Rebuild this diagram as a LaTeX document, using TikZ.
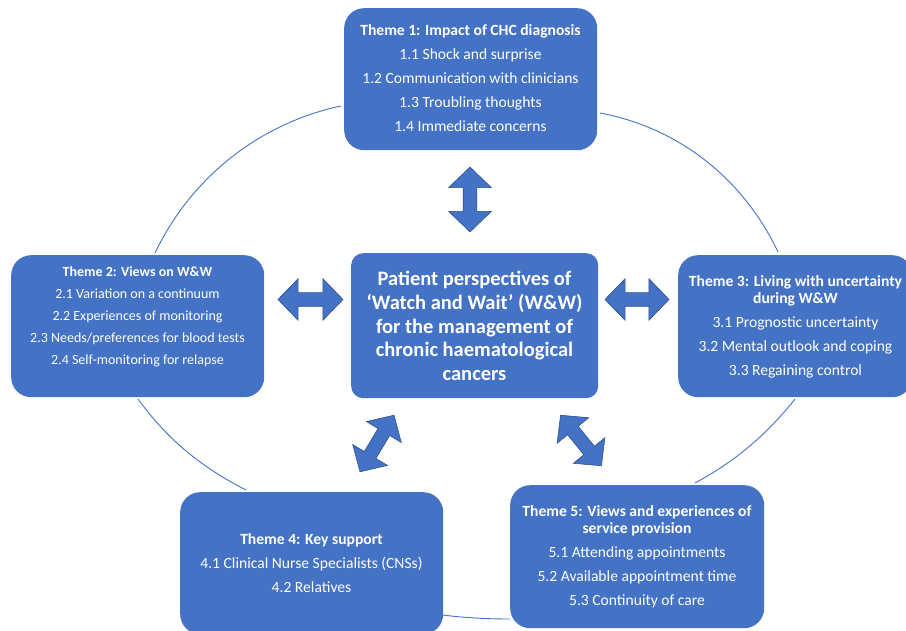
\documentclass[tikz,border=0pt]{standalone}
\usepackage{fontspec}
\setmainfont{Carlito}
\usetikzlibrary{shapes.arrows}
\definecolor{acc}{HTML}{4472C4}
\definecolor{accdark}{HTML}{2F528F}
\begin{document}
\begin{tikzpicture}[x=1pt,y=-1pt,
  themebox/.style={fill=acc, draw=none, rounded corners=20pt, inner sep=0pt, anchor=north west},
  ctrbox/.style={fill=acc, draw=none, rounded corners=12pt, inner sep=0pt, anchor=north west},
  themetext/.style={text=white, align=center, inner sep=0pt, font=\fontsize{15.6}{17}\selectfont},
  smalltext/.style={text=white, align=center, inner sep=0pt, font=\fontsize{14}{15.4}\selectfont},
  ctrtext/.style={text=white, align=center, inner sep=0pt, font=\bfseries\fontsize{20.5}{23.8}\selectfont},
  dblarr/.style={double arrow, fill=acc, draw=accdark, line width=0.6pt,
    inner xsep=0pt, inner ysep=6.5pt, text height=0pt, text depth=0pt,
    double arrow head extend=14pt, double arrow tip angle=92},
  ring/.style={draw=acc, line width=0.9pt}
]
\useasboundingbox (0,0) rectangle (906,631);

% ring arcs (behind the boxes)
\coordinate (r1a) at (341,106);
\coordinate (r1b) at (155,253);
\coordinate (r2a) at (138,399);
\coordinate (r2b) at (246,490);
\coordinate (r3a) at (443,615);
\coordinate (r3b) at (510,619);
\coordinate (r4a) at (695,483);
\coordinate (r4b) at (795,399);
\coordinate (r5a) at (778,252);
\coordinate (r5b) at (600,113);
\draw[ring] (r1a) .. controls (259.7,123.3) and (191.2,177.2) .. (r1b);
\draw[ring] (r2a) .. controls (167.4,439.5) and (201.4,467.3) .. (r2b);
\draw[ring] (r3a) .. controls (465,618) and (490,619) .. (r3b);
\draw[ring] (r4a) .. controls (734.7,461.8) and (767.1,434.3) .. (r4b);
\draw[ring] (r5a) .. controls (744,180) and (680,128) .. (r5b);

% boxes
\node[themebox, minimum width=253pt, minimum height=142pt] (t1) at (344,8) {};
\node[themebox, minimum width=253pt, minimum height=142pt] (t2) at (11,255) {};
\node[ctrbox, minimum width=247pt, minimum height=145pt] (ctr) at (351,253) {};
\node[themebox, minimum width=234pt, minimum height=142pt] (t3) at (678,255) {};
\node[themebox, minimum width=263pt, minimum height=142pt] (t4) at (180,492) {};
\node[themebox, minimum width=254pt, minimum height=143pt] (t5) at (510,485) {};

% texts
\node[themetext] (t1txt) at (470.5,78.5) {\textbf{Theme 1: Impact of CHC diagnosis}\\[7pt]
  1.1 Shock and surprise\\[7pt] 1.2 Communication with clinicians\\[7pt]
  1.3 Troubling thoughts\\[7pt] 1.4 Immediate concerns};
\node[smalltext] (t2txt) at (137.5,316.5) {\textbf{Theme 2: Views on W\&W}\\[6.6pt]
  2.1 Variation on a continuum\\[6.6pt] 2.2 Experiences of monitoring\\[6.6pt]
  2.3 Needs/preferences for blood tests\\[6.6pt] 2.4 Self-monitoring for relapse};
\node[themetext] (t3txt) at (795.5,326.5) {\textbf{Theme 3: Living with uncertainty}\\
  \textbf{during W\&W}\\[7pt]
  3.1 Prognostic uncertainty\\[7pt] 3.2 Mental outlook and coping\\[7pt]
  3.3 Regaining control};
\node[themetext] (t4txt) at (311.5,563.5) {\textbf{Theme 4: Key support}\\[7pt]
  4.1 Clinical Nurse Specialists (CNSs)\\[7pt] 4.2 Relatives};
\node[themetext] (t5txt) at (637,556.5) {\textbf{Theme 5: Views and experiences of}\\
  \textbf{service provision}\\[7pt]
  5.1 Attending appointments\\[7pt] 5.2 Available appointment time\\[7pt]
  5.3 Continuity of care};
\node[ctrtext] (ctrtxt) at (474.5,326) {Patient perspectives of\\
  ‘Watch and Wait’ (W\&W)\\ for the management of\\ chronic haematological\\ cancers};

% double arrows
\node[dblarr, minimum height=65pt, double arrow head extend=14.5pt, rotate=90] (a1) at (470,199.5) {};
\node[dblarr, minimum height=65pt] (a2) at (310.5,299.5) {};
\node[dblarr, minimum height=64pt] (a3) at (637,299.5) {};
\node[dblarr, minimum height=66pt, double arrow head extend=13.5pt, rotate=59] (a4) at (377,443.5) {};
\node[dblarr, minimum height=65pt, double arrow head extend=13.5pt, rotate=-51] (a5) at (581,440.5) {};
\end{tikzpicture}
\end{document}
